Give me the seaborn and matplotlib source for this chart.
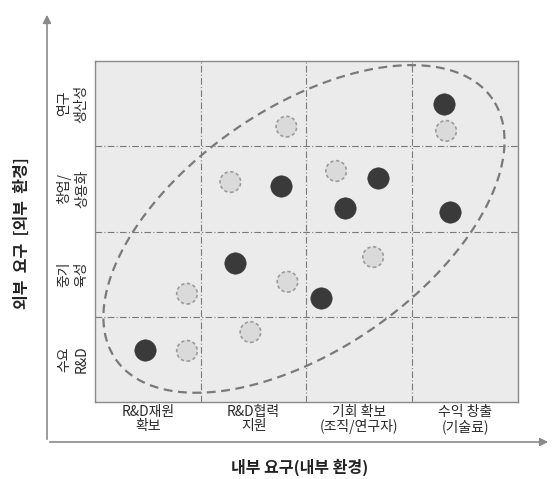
import numpy as np
import pandas as pd
import matplotlib
matplotlib.use('Agg')
import matplotlib.pyplot as plt
import seaborn as sns

# columns: internal needs, rows: external needs
x_labels = ['R&D재원\n확보', 'R&D협력\n지원', '기회 확보\n(조직/연구자)', '수익 창출\n(기술료)']
y_labels = ['수요\nR&D', '중기\n육성', '창업/\n상용화', '연구\n생산성']

dark_x = [0.47, 1.32, 1.76, 2.14, 2.36, 2.68, 3.30, 3.36]
dark_y = [0.61, 1.63, 2.53, 1.22, 2.28, 2.63, 3.50, 2.23]
light_x = [0.87, 0.87, 1.47, 1.28, 1.81, 1.82, 2.28, 2.63, 3.32]
light_y = [0.60, 1.27, 0.82, 2.58, 3.23, 1.41, 2.71, 1.70, 3.18]

sns.set_style('white')
plt.rcParams['font.family'] = ['Noto Sans CJK KR', 'DejaVu Sans']

fig = plt.figure(figsize=(5.53, 4.79), dpi=100)
ax = fig.add_axes([95 / 553, 1 - 402 / 479, 423 / 553, 341 / 479])
ax.set_facecolor('#ebebeb')

dark = pd.DataFrame({'x': dark_x, 'y': dark_y})
light = pd.DataFrame({'x': light_x, 'y': light_y})

sns.scatterplot(data=light, x='x', y='y', ax=ax, s=220, color='#dadada',
                edgecolor='#9c9c9c', linewidth=1.2, linestyle=(0, (2, 1.5)), zorder=3)
sns.scatterplot(data=dark, x='x', y='y', ax=ax, s=240, color='#3a3a3a',
                edgecolor='#3a3a3a', linewidth=0.3, zorder=4)

# grid lines between categories
for v in [1, 2, 3]:
    ax.axvline(v, color='#7a7a7a', lw=0.8, ls=(0, (6, 2, 1, 2)), zorder=1)
    ax.axhline(v, color='#7a7a7a', lw=0.8, ls=(0, (6, 2, 1, 2)), zorder=1)

# dashed ellipse around the points
t = np.linspace(0, 2 * np.pi, 300)
cx, cy = 1.976, 2.03
ux, uy = 1.782, 1.526
vx, vy = -0.650, 1.168
ax.plot(cx + ux * np.cos(t) + vx * np.sin(t), cy + uy * np.cos(t) + vy * np.sin(t),
        color='#7a7a7a', lw=1.6, ls=(0, (4, 2.5)), zorder=2)

ax.set_xlim(0, 4)
ax.set_ylim(0, 4)
ax.set_xticks([0.5, 1.5, 2.5, 3.5])
ax.set_xticklabels(x_labels, fontsize=10, color='#2a2a2a', linespacing=1.05)
ax.set_yticks([0.5, 1.5, 2.5, 3.5])
ax.set_yticklabels(y_labels, fontsize=10, color='#2a2a2a', rotation=90,
                   va='center', ha='center', linespacing=1.3)
ax.tick_params(axis='x', length=0, pad=2)
ax.tick_params(axis='y', length=0, pad=16)
ax.set_xlabel('')
ax.set_ylabel('')
for sp in ax.spines.values():
    sp.set_color('#8a8a8a')
    sp.set_linewidth(1.0)

# outer axis arrows
ax0 = 47 / 553
ay0 = 1 - 442 / 479
fig.add_artist(matplotlib.patches.FancyArrowPatch((ax0, ay0), (ax0, 1 - 12 / 479),
               transform=fig.transFigure, arrowstyle='-|>', mutation_scale=12,
               color='#8a8a8a', lw=1.2))
fig.add_artist(matplotlib.patches.FancyArrowPatch((ax0, ay0), (551 / 553, ay0),
               transform=fig.transFigure, arrowstyle='-|>', mutation_scale=12,
               color='#8a8a8a', lw=1.2))

fig.text(300 / 553, 1 - 467 / 479, '내부 요구(내부 환경)', fontsize=11.5,
         fontweight='bold', ha='center', va='center', color='#222222')
fig.text(22 / 553, 1 - 233 / 479, '외부  요구  [외부  환경]', fontsize=11.5,
         fontweight='bold', ha='center', va='center', rotation=90, color='#222222')

fig.savefig('out.png', dpi=100)
